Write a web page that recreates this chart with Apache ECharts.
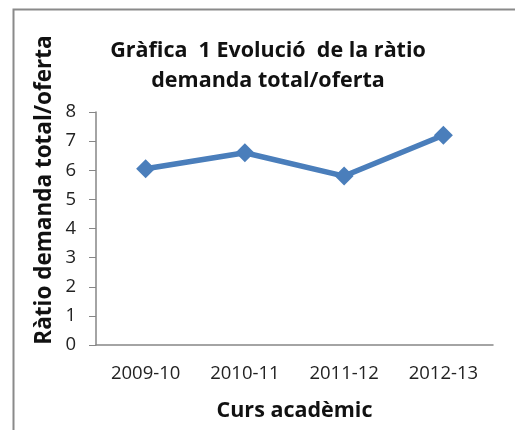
<!DOCTYPE html>
<html lang="ca">
<head>
    <meta charset="UTF-8">
    <title>Gràfica 1</title>
    <script src="https://cdn.jsdelivr.net/npm/echarts@6/dist/echarts.min.js"></script>
    <style>
        html, body { margin: 0; padding: 0; background: #fff; }
        #main { width: 515px; height: 430px; }
    </style>
</head>
<body>
    <div id="main"></div>
    <script>
        // dades llegides de la gràfica
        var cursos = ['2009-10', '2010-11', '2011-12', '2012-13'];
        var ratio = [6.05, 6.6, 5.8, 7.2];
        var titol = ['Gràfica  1 Evolució  de la ràtio', 'demanda total/oferta'];

        var font = '"Open Sans", sans-serif';
        var chart = echarts.init(document.getElementById('main'));
        chart.setOption({
            animation: false,
            grid: { left: 96, right: 22, top: 112, bottom: 85 },
            graphic: [
                // vora del gràfic (només es veu la part de dalt i l'esquerra)
                { type: 'polyline', shape: { points: [[13.5, 430], [13.5, 9.5], [515, 9.5]] },
                  style: { stroke: '#8a8a8a', lineWidth: 2, fill: null } },
                { type: 'text', x: 268, y: 36,
                  style: { text: titol.join('\n'), textAlign: 'center', fill: '#111',
                           font: 'bold 21.5px ' + font, lineHeight: 30 } },
                { type: 'text', x: 45, y: 190, rotation: Math.PI / 2,
                  style: { text: 'Ràtio demanda total/oferta', textAlign: 'center', textVerticalAlign: 'middle',
                           fill: '#111', font: 'bold 22.5px ' + font } }
            ],
            xAxis: {
                type: 'category',
                data: cursos,
                name: 'Curs acadèmic',
                nameLocation: 'middle',
                nameGap: 55,
                nameTextStyle: { fontFamily: font, fontWeight: 'bold', fontSize: 21.5, color: '#111' },
                axisLine: { lineStyle: { color: '#868686', width: 1.5 } },
                axisTick: { lineStyle: { color: '#868686' }, length: 6 },
                axisLabel: { fontFamily: font, fontSize: 18.5, color: '#222', margin: 19 }
            },
            yAxis: {
                type: 'value',
                min: 0, max: 8, interval: 1,
                splitLine: { show: false },
                axisLine: { show: true, lineStyle: { color: '#868686', width: 1.5 } },
                axisTick: { show: true, lineStyle: { color: '#868686' }, length: 7 },
                axisLabel: { fontFamily: font, fontSize: 18.5, color: '#222', margin: 20 }
            },
            series: [{
                type: 'line',
                data: ratio,
                symbol: 'diamond',
                symbolSize: 19,
                lineStyle: { color: '#4a7ebb', width: 5.5 },
                itemStyle: { color: '#4a7ebb' }
            }]
        });
    </script>
</body>
</html>
